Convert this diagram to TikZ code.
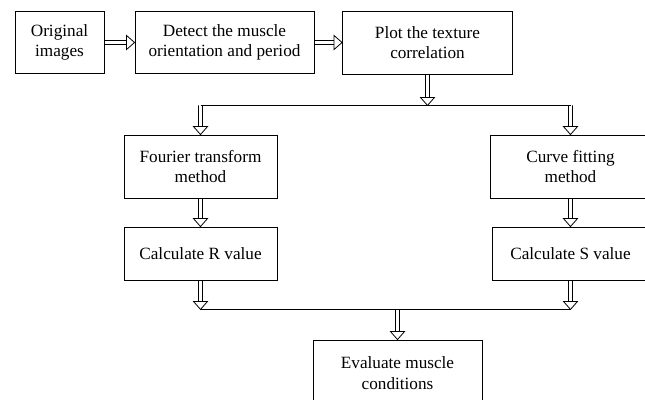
\documentclass[tikz,border=0pt]{standalone}
\usepackage{fontspec}
\setmainfont{Liberation Serif}
\usetikzlibrary{calc}
\begin{document}
\begin{tikzpicture}[x=1pt,y=-1pt,
  box/.style={draw, line width=0.9pt, align=center, inner sep=2pt,
    font=\fontsize{17.2}{20.5}\selectfont},
  darrow/.style={line width=0.8pt, line join=miter, to path={
    ($(\tikztotarget)!8pt!(\tikztostart)$) coordinate (tipbase)
    ($(\tikztostart)!2pt!90:(\tikztotarget)$) -- ($(tipbase)!2pt!90:(\tikztotarget)$)
    ($(\tikztostart)!2pt!-90:(\tikztotarget)$) -- ($(tipbase)!2pt!-90:(\tikztotarget)$)
    ($(tipbase)!7pt!90:(\tikztotarget)$) -- (\tikztotarget) -- ($(tipbase)!7pt!-90:(\tikztotarget)$) -- cycle
    (\tikztotarget)}},
  thin line/.style={line width=0.9pt}]
\useasboundingbox (0,0) rectangle (645,399);
\clip (0,0) rectangle (645,399);
\node[box, minimum width=89pt, minimum height=62pt] (orig) at (59.5,42.5) {Original\\images};
\node[box, minimum width=179pt, minimum height=62pt] (detect) at (224.5,42.5) {Detect the muscle\\orientation and period};
\node[box, minimum width=170pt, minimum height=63pt] (plot) at (427.5,42.5) {Plot the texture\\correlation};
\node[box, minimum width=153pt, minimum height=63pt] (fourier) at (200.5,166.5) {Fourier transform\\method};
\node[box, minimum width=160pt, minimum height=63pt] (curve) at (570.5,166.5) {Curve fitting\\method};
\node[box, minimum width=153pt, minimum height=53pt] (calcR) at (200.5,253.5) {Calculate R value};
\node[box, minimum width=156pt, minimum height=53pt] (calcS) at (570.5,253.5) {Calculate S value};
\node[box, minimum width=169pt, minimum height=66pt] (eval) at (397.5,373) {Evaluate muscle\\conditions};
\draw[darrow] (orig.east) to (detect.west);
\draw[darrow] (detect.east) to (plot.west);
\path (plot.south) ++(0,31) coordinate (s1);
\coordinate (sL) at (fourier.north |- s1);
\coordinate (sR) at (curve.north |- s1);
\draw[thin line] (sL) -- (sR);
\draw[darrow] (plot.south) to (s1);
\draw[darrow] (sL) to (fourier.north);
\draw[darrow] (sR) to (curve.north);
\draw[darrow] (fourier.south) to (calcR.north);
\draw[darrow] (curve.south) to (calcS.north);
\path (calcR.south) ++(0,29) coordinate (jL);
\coordinate (jR) at (calcS.south |- jL);
\coordinate (jM) at (eval.north |- jL);
\draw[thin line] (jL) -- (jR);
\draw[darrow] (calcR.south) to (jL);
\draw[darrow] (calcS.south) to (jR);
\draw[darrow] (jM) to (eval.north);
\end{tikzpicture}
\end{document}
